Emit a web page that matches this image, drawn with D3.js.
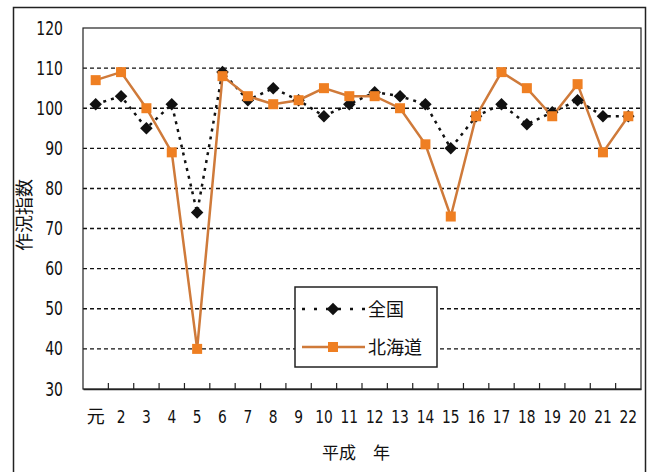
<!DOCTYPE html>
<html>
<head>
<meta charset="utf-8">
<script src="https://cdn.jsdelivr.net/npm/d3@7"></script>
<style>
  body { margin: 0; background: #fff; }
  svg text { font-family: "DejaVu Sans Condensed", "Liberation Sans Narrow", "Noto Sans CJK JP", sans-serif; fill: #111; }
  .jp { font-family: "Noto Sans CJK JP", sans-serif; }
</style>
</head>
<body>
<div id="chart"></div>
<script>
(function() {
  var years = ["元", "2", "3", "4", "5", "6", "7", "8", "9", "10", "11",
               "12", "13", "14", "15", "16", "17", "18", "19", "20", "21", "22"]
  var zenkoku = [101, 103, 95, 101, 74, 109, 102, 105, 102, 98, 101,
                 104, 103, 101, 90, 98, 101, 96, 99, 102, 98, 98]
  var hokkaido = [107, 109, 100, 89, 40, 108, 103, 101, 102, 105, 103,
                  103, 100, 91, 73, 98, 109, 105, 98, 106, 89, 98]
  var yTicks = [30, 40, 50, 60, 70, 80, 90, 100, 110, 120]

  var svg = d3.select("#chart").append("svg")
      .attr("width", 648)
      .attr("height", 472)

  // outer frame (open at bottom)
  svg.append("path")
    .attr("d", "M13.5,472 V7.5 H645.5 V472")
    .attr("fill", "none")
    .attr("stroke", "#222")
    .attr("stroke-width", 1.5)

  var margin = {top: 28, left: 83}
  var width = 641 - 83,
      height = 389 - 28

  var g = svg.append("g")
    .attr("transform", "translate(" + margin.left + "," + margin.top + ")")

  var x = d3.scaleBand().domain(years).range([0, width])
  var y = d3.scaleLinear().domain([30, 120]).range([height, 0])

  // gridlines
  g.selectAll(".grid")
    .data(yTicks.filter(function(d) { return d > 30 && d < 120 }))
    .enter().append("line")
    .attr("class", "grid")
    .attr("x1", 0).attr("x2", width)
    .attr("y1", d => y(d)).attr("y2", d => y(d))
    .attr("stroke", "#111")
    .attr("stroke-width", 1.4)
    .attr("stroke-dasharray", "4,3")

  // plot border
  g.append("rect")
    .attr("width", width).attr("height", height)
    .attr("fill", "none")
    .attr("stroke", "#222")
    .attr("stroke-width", 1.2)

  // y axis labels
  var yAxis = d3.axisLeft(y).tickValues(yTicks).tickSize(0)
  g.append("g").attr("class", "axis y-axis").call(yAxis)
    .call(s => s.select(".domain").remove())
    .selectAll("text").style("font-size", "19px").attr("transform", "scale(0.82,1)")
    .attr("x", -20 / 0.82)

  // x axis, ticks pointing inward at band edges
  var xAxis = d3.axisBottom(x).tickSize(0).tickPadding(21)
  var xg = g.append("g").attr("class", "axis x-axis")
    .attr("transform", "translate(0," + height + ")")
    .call(xAxis)
  xg.select(".domain").attr("stroke", "#222").attr("stroke-width", 1.5)
  xg.selectAll("text").style("font-size", "18px")
    .attr("transform", (d, i) => i === 0 ? null : "scale(0.85,1)")
    .attr("class", (d, i) => i === 0 ? "jp" : null)
  xg.selectAll(".edge")
    .data(years.slice(1))
    .enter().append("line")
    .attr("class", "edge")
    .attr("x1", d => x(d)).attr("x2", d => x(d))
    .attr("y1", 0).attr("y2", -6)
    .attr("stroke", "#222")
    .attr("stroke-width", 1.2)

  // series
  var line = d3.line()
    .x(function(d, i) { return x(years[i]) + x.bandwidth() / 2 })
    .y(d => y(d))

  g.append("path")
    .datum(zenkoku)
    .attr("d", line)
    .attr("fill", "none")
    .attr("stroke", "#111")
    .attr("stroke-width", 2.5)
    .attr("stroke-dasharray", "3,5")

  g.append("path")
    .datum(hokkaido)
    .attr("d", line)
    .attr("fill", "none")
    .attr("stroke", "#cf7a3a")
    .attr("stroke-width", 2.5)

  var diamond = d3.symbol().type(d3.symbolDiamond2).size(100)
  g.selectAll(".zen")
    .data(zenkoku)
    .enter().append("path")
    .attr("class", "zen")
    .attr("d", diamond)
    .attr("transform", (d, i) => "translate(" + (x(years[i]) + x.bandwidth() / 2) + "," + y(d) + ")")
    .attr("fill", "#111")

  g.selectAll(".hok")
    .data(hokkaido)
    .enter().append("rect")
    .attr("class", "hok")
    .attr("x", (d, i) => x(years[i]) + x.bandwidth() / 2 - 5)
    .attr("y", d => y(d) - 5)
    .attr("width", 10).attr("height", 10)
    .attr("fill", "#ef7f22")

  // legend
  var leg = svg.append("g").attr("transform", "translate(295,287)")
  leg.append("rect")
    .attr("width", 142).attr("height", 80)
    .attr("fill", "#fff")
    .attr("stroke", "#222")
    .attr("stroke-width", 1.5)
  leg.append("line")
    .attr("x1", 7).attr("x2", 70).attr("y1", 22).attr("y2", 22)
    .attr("stroke", "#111").attr("stroke-width", 2.5)
    .attr("stroke-dasharray", "3,9")
  leg.append("path")
    .attr("d", diamond)
    .attr("transform", "translate(38,22)")
    .attr("fill", "#111")
  leg.append("line")
    .attr("x1", 7).attr("x2", 70).attr("y1", 60).attr("y2", 60)
    .attr("stroke", "#cf7a3a").attr("stroke-width", 2.5)
  leg.append("rect")
    .attr("x", 33).attr("y", 55).attr("width", 10).attr("height", 10)
    .attr("fill", "#ef7f22")
  leg.append("text").attr("class", "jp")
    .attr("x", 73).attr("y", 29).style("font-size", "18px").text("全国")
  leg.append("text").attr("class", "jp")
    .attr("x", 73).attr("y", 67).style("font-size", "18px").text("北海道")

  // titles
  svg.append("text").attr("class", "jp")
    .attr("x", 322).attr("y", 459)
    .style("font-size", "17px")
    .text("平成　年")
  svg.append("text").attr("class", "jp")
    .attr("transform", "translate(31,215) rotate(-90)")
    .attr("text-anchor", "middle")
    .style("font-size", "18px")
    .text("作況指数")
})()
</script>
</body>
</html>
